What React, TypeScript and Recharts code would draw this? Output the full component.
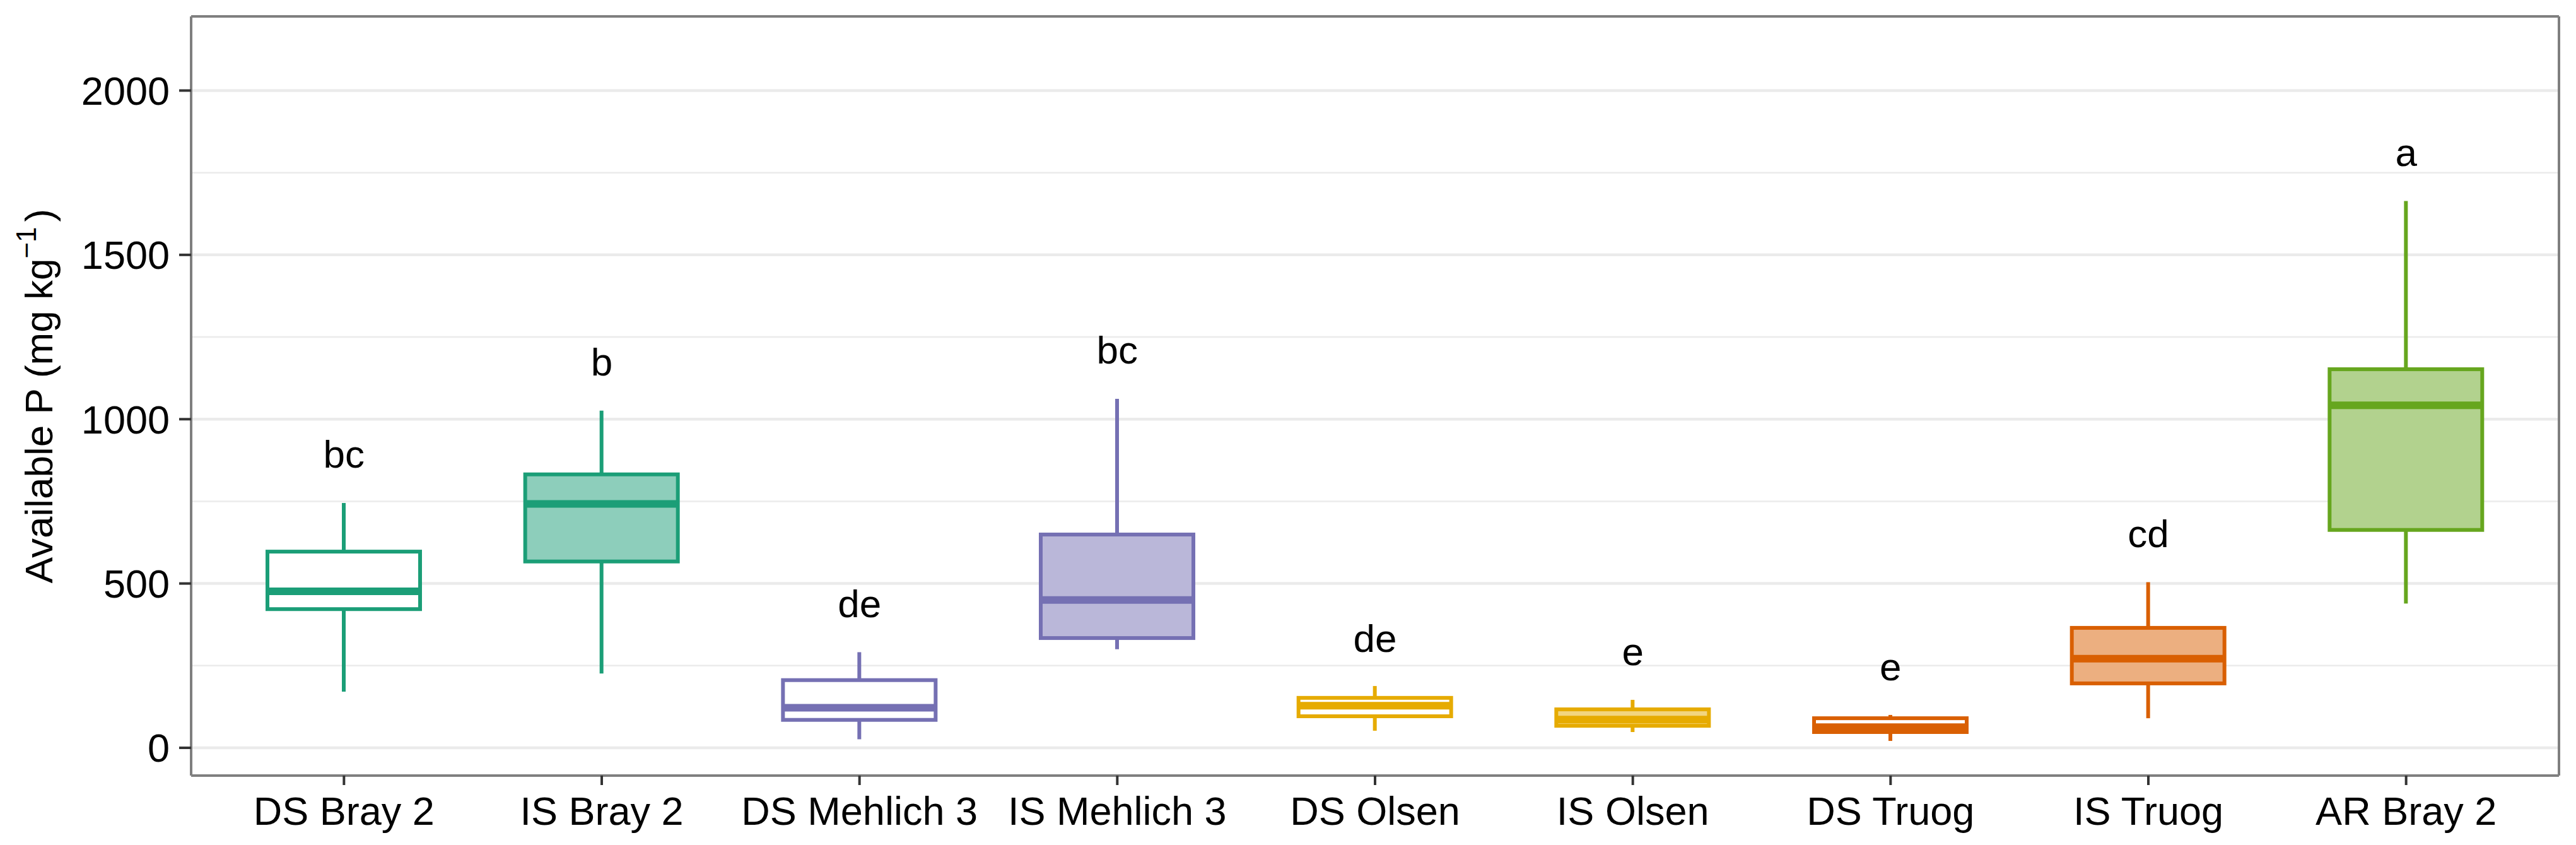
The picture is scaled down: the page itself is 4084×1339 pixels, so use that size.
import React from 'react';
import { ComposedChart, Bar, Scatter, XAxis, YAxis, CartesianGrid } from 'recharts';

// ---- data ----
const categories = [
  'DS Bray 2', 'IS Bray 2', 'DS Mehlich 3', 'IS Mehlich 3', 'DS Olsen',
  'IS Olsen', 'DS Truog', 'IS Truog', 'AR Bray 2',
];
const whiskerLow = [171, 226, 26, 300, 52, 48, 21, 90, 439];
const q1Values = [422, 567, 85, 334, 96, 67, 48, 196, 663];
const medianValues = [476, 742, 122, 450, 128, 86, 63, 271, 1042];
const q3Values = [597, 832, 206, 649, 152, 117, 90, 365, 1152];
const whiskerHigh = [745, 1026, 291, 1062, 188, 146, 100, 504, 1664];
const letters = ['bc', 'b', 'de', 'bc', 'de', 'e', 'e', 'cd', 'a'];
const letterY = [895, 1176, 441, 1212, 335, 294, 248, 654, 1814];
const yTicks = [0, 500, 1000, 1500, 2000];
const yMinorTicks = [250, 750, 1250, 1750];
const yDomain = [-84.5, 2225.6];

// ---- styles ----
const STROKES = ['#1b9e77', '#1b9e77', '#7570b3', '#7570b3', '#e6ab02', '#e6ab02', '#d95f02', '#d95f02', '#66a61e'];
const FILLS = ['#ffffff', '#8dcebb', '#ffffff', '#bab7d9', '#ffffff', '#f2d580', '#ffffff', '#ecaf80', '#b2d28e'];
const FONT = '"Liberation Sans", Arial, Helvetica, sans-serif';
const FS = 63;
const BORDER = { stroke: '#7f7f7f', strokeWidth: 4 };

const data = categories.map((name, i) => ({
  name,
  range: [whiskerLow[i], whiskerHigh[i]],
  low: whiskerLow[i],
  q1: q1Values[i],
  median: medianValues[i],
  q3: q3Values[i],
  high: whiskerHigh[i],
  letter: letters[i],
  letterY: letterY[i],
}));

const BoxShape = (props: any) => {
  const { x, y, width, height, payload, index } = props;
  if (x == null || y == null || !payload) return null;
  const top = Math.min(y, y + height);
  const h = Math.abs(height);
  const k = h / (payload.high - payload.low);
  const py = (v: number) => top + (payload.high - v) * k;
  const cx = x + width / 2;
  const stroke = STROKES[index];
  const fill = FILLS[index];
  return (
    <g>
      <line x1={cx} x2={cx} y1={py(payload.high)} y2={py(payload.q3)} stroke={stroke} strokeWidth={6} />
      <line x1={cx} x2={cx} y1={py(payload.q1)} y2={py(payload.low)} stroke={stroke} strokeWidth={6} />
      <rect x={x} y={py(payload.q3)} width={width} height={py(payload.q1) - py(payload.q3)}
        fill={fill} stroke={stroke} strokeWidth={6} />
      <line x1={x} x2={x + width} y1={py(payload.median)} y2={py(payload.median)} stroke={stroke} strokeWidth={12} />
    </g>
  );
};

const LetterShape = (props: any) => {
  const { cx, cy, payload } = props;
  if (cx == null || cy == null) return null;
  return (
    <text x={cx} y={cy} dy="0.36em" textAnchor="middle" fontSize={62} fill="#000" fontFamily={FONT}>
      {payload.letter}
    </text>
  );
};

const YTitle = (props: any) => {
  const vb = props.viewBox || { x: 0, y: 26, width: 303, height: 1203 };
  const cy = vb.y + vb.height / 2;
  const bx = 83;
  return (
    <text x={bx} y={cy} transform={`rotate(-90, ${bx}, ${cy})`} textAnchor="middle"
      fontSize={62} fill="#000" fontFamily={FONT}>
      <tspan>Available P (mg kg</tspan>
      <tspan fontSize={44} dy={-26}>−1</tspan>
      <tspan dy={26} dx={8}>)</tspan>
    </text>
  );
};

export default function App() {
  return (
    <div style={{ position: 'absolute', left: 0, top: 0, width: 4084, height: 1339, background: '#fff', fontFamily: FONT }}>
      <ComposedChart width={4084} height={1339} data={data}
        margin={{ top: 25, right: 26, bottom: 0, left: 0 }}>
        <CartesianGrid vertical={false} horizontalValues={yMinorTicks} stroke="#ebebeb" strokeWidth={2.5} />
        <CartesianGrid vertical={false} horizontalValues={yTicks} stroke="#ebebeb" strokeWidth={4.5} />
        <XAxis dataKey="name" type="category" height={110} padding={{ left: 38, right: 38 }}
          axisLine={BORDER}
          tickLine={{ stroke: '#333', strokeWidth: 4 }} tickSize={15} tickMargin={18}
          tick={{ fill: '#000', fontSize: FS, fontFamily: FONT }} interval={0} />
        <XAxis xAxisId="top" dataKey="name" type="category" orientation="top" height={1}
          padding={{ left: 38, right: 38 }} tick={false} tickLine={false} axisLine={BORDER} />
        <YAxis type="number" domain={yDomain} ticks={yTicks} allowDataOverflow width={303}
          axisLine={BORDER}
          tickLine={{ stroke: '#333', strokeWidth: 4 }} tickSize={19} tickMargin={15}
          tick={{ fill: '#000', fontSize: FS, fontFamily: FONT }} interval={0}
          label={<YTitle />} />
        <YAxis yAxisId="right" orientation="right" type="number" domain={yDomain} allowDataOverflow width={1}
          tick={false} tickLine={false} axisLine={BORDER} />
        <Bar dataKey="range" barSize={242} shape={<BoxShape />} isAnimationActive={false} />
        <Scatter xAxisId="top" yAxisId="right" dataKey="letterY" shape={<LetterShape />} isAnimationActive={false} />
      </ComposedChart>
    </div>
  );
}
